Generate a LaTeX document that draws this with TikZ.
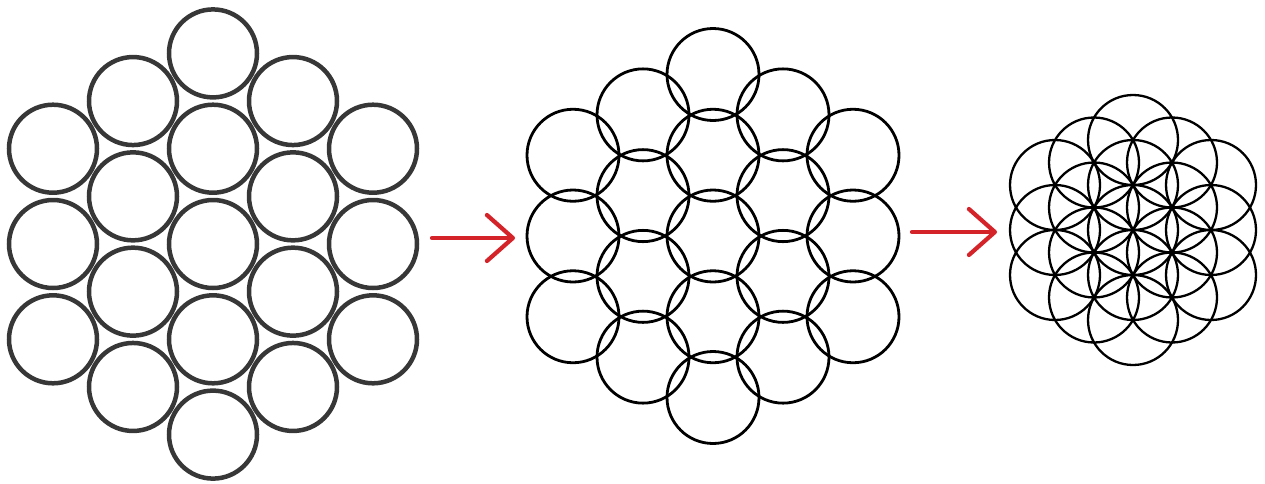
\documentclass[tikz,border=0pt]{standalone}
\usetikzlibrary{arrows.meta}
\definecolor{ringgray}{RGB}{55,55,55}
\definecolor{arrred}{RGB}{212,36,42}
\tikzset{
  ringA/.style={circle, draw=ringgray, line width=4.5pt, minimum size=88pt, inner sep=0pt},
  ringB/.style={circle, draw=black, line width=2.8pt, minimum size=92pt, inner sep=0pt},
  ringC/.style={circle, draw=black, line width=2.3pt, minimum size=90pt, inner sep=0pt},
  redarrow/.style={draw=arrred, line width=4.2pt, line cap=round,
    -{Straight Barb[length=26pt,width=46pt,line width=4.2pt,round]}}
}
\begin{document}
\begin{tikzpicture}[x=1pt,y=-1pt]
\useasboundingbox (0,0) rectangle (1265,483);
\def\hexpts{0/-2,0/-1,0/0,0/1,0/2,-1/-1.5,-1/-0.5,-1/0.5,-1/1.5,1/-1.5,1/-0.5,1/0.5,1/1.5,-2/-1,-2/0,-2/1,2/-1,2/0,2/1}
% left cluster: touching circles
\foreach \i/\k [count=\n] in \hexpts
  \node[ringA] (L\n) at ({213+80*\i},{244+95.3*\k}) {};
% middle cluster: overlapping circles
\foreach \i/\k [count=\n] in \hexpts
  \node[ringB] (M\n) at ({713+70*\i},{236+80.75*\k}) {};
% right cluster: flower of life
\foreach \i/\k [count=\n] in \hexpts
  \node[ringC] (R\n) at ({1133+39*\i},{230+45*\k}) {};
% arrows
\coordinate (a1s) at (432,238);
\coordinate (a1e) at (515,238);
\coordinate (a2s) at (912,232);
\coordinate (a2e) at (997,232);
\draw[redarrow] (a1s) -- (a1e);
\draw[redarrow] (a2s) -- (a2e);
\end{tikzpicture}
\end{document}
